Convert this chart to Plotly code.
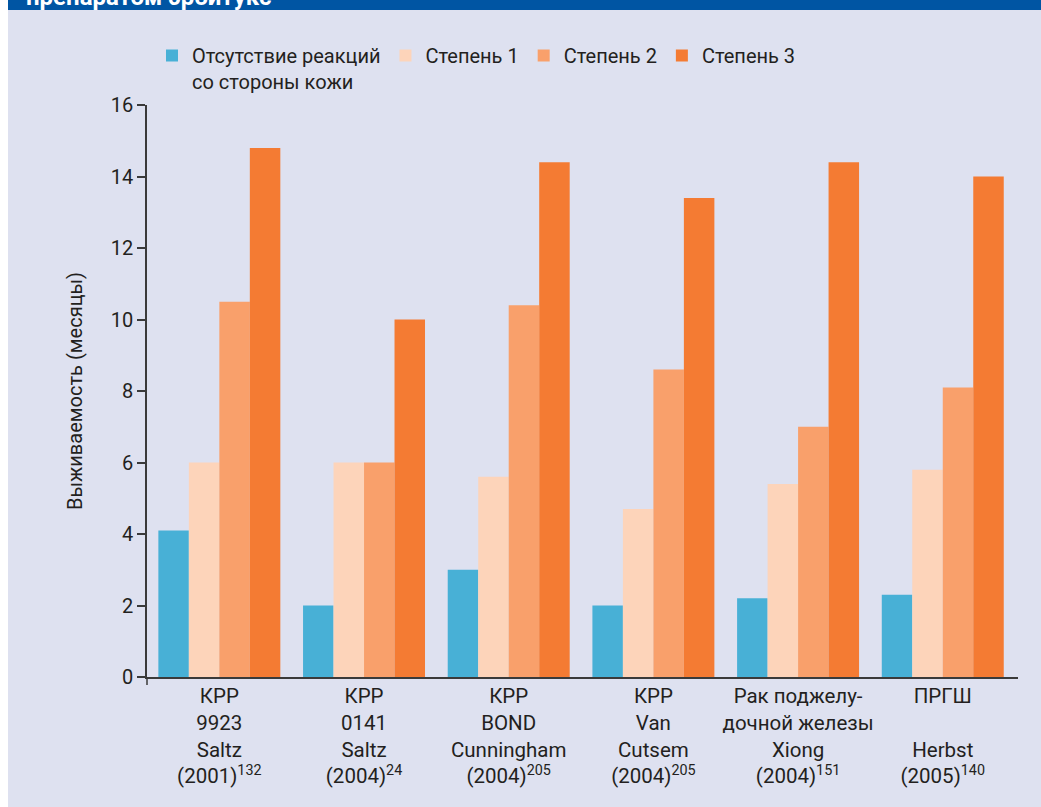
import plotly.graph_objects as go

categories = [
    "КРР<br>9923<br>Saltz<br>(2001)<sup>132</sup>",
    "КРР<br>0141<br>Saltz<br>(2004)<sup>24</sup>",
    "КРР<br>BOND<br>Cunningham<br>(2004)<sup>205</sup>",
    "КРР<br>Van<br>Cutsem<br>(2004)<sup>205</sup>",
    "Рак поджелу-<br>дочной железы<br>Xiong<br>(2004)<sup>151</sup>",
    "ПРГШ<br> <br>Herbst<br>(2005)<sup>140</sup>",
]
series_names = ["Отсутствие реакций<br>со стороны кожи", "Степень 1", "Степень 2", "Степень 3"]
no_reaction = [4.1, 2.0, 3.0, 2.0, 2.2, 2.3]
grade1 = [6.0, 6.0, 5.6, 4.7, 5.4, 5.8]
grade2 = [10.5, 6.0, 10.4, 8.6, 7.0, 8.1]
grade3 = [14.8, 10.0, 14.4, 13.4, 14.4, 14.0]
y_ticks = [0, 2, 4, 6, 8, 10, 12, 14, 16]

colors = ["#48B0D6", "#FDD4BA", "#F9A06B", "#F47B33"]
FONT = "Roboto"
TXT = "#231F20"
BG = "#DEE1F0"

x_idx = list(range(len(categories)))
fig = go.Figure()
for name, vals, col in zip(series_names, [no_reaction, grade1, grade2, grade3], colors):
    fig.add_trace(go.Bar(x=x_idx, y=vals, name=name, marker=dict(color=col, line=dict(width=0))))

L, R, T, B = 147, 23, 105, 130
W, H = 1041, 807
pw, ph = W - L - R, H - T - B
def px_x(p):
    return (p - L) / pw
def px_y(p):
    return (H - B - p) / ph

fig.update_layout(
    width=W, height=H,
    margin=dict(l=L, r=R, t=T, b=B, pad=0),
    paper_bgcolor=BG, plot_bgcolor=BG,
    font=dict(family=FONT, size=20, color=TXT),
    barmode="group", bargap=0.157, bargroupgap=0,
    showlegend=True,
    legend=dict(orientation="h", x=px_x(152), y=px_y(36), xanchor="left", yanchor="top",
                valign="top", bgcolor="rgba(0,0,0,0)", font=dict(size=20, family=FONT, color=TXT),
                traceorder="normal"),
    xaxis=dict(tickmode="array", tickvals=x_idx, ticktext=categories, range=[-0.5, 5.52],
               showline=True, linecolor="#3a3a3a", linewidth=1.5, ticks="", showgrid=False,
               zeroline=False, tickfont=dict(size=20.5, family=FONT, color=TXT)),
    yaxis=dict(range=[0, 16], tickmode="array", tickvals=y_ticks, showline=True,
               linecolor="#3a3a3a", linewidth=1.5, ticks="outside", ticklen=8, tickwidth=1.5,
               tickcolor="#3a3a3a", showgrid=False, zeroline=False,
               tickfont=dict(size=20, family=FONT, color=TXT),
               title=dict(text="Выживаемость (месяцы)", font=dict(size=20, family=FONT, color=TXT), standoff=23)),
    shapes=[
        dict(type="rect", xref="paper", yref="paper", x0=px_x(0), x1=px_x(8), y0=px_y(H), y1=px_y(0),
             fillcolor="white", line=dict(width=0), layer="above"),
        dict(type="rect", xref="paper", yref="paper", x0=px_x(8), x1=px_x(W), y0=px_y(10), y1=px_y(0),
             fillcolor="#0055A3", line=dict(width=0), layer="above"),
        dict(type="line", xref="paper", yref="paper", x0=0, x1=0, y0=0, y1=px_y(685),
             line=dict(color="#3a3a3a", width=1.5)),
    ],
    annotations=[
        dict(text="<b>препаратом эрбитукс</b>", xref="paper", yref="paper", x=px_x(24), y=px_y(13),
             xanchor="left", yanchor="bottom", showarrow=False,
             font=dict(size=24, family=FONT, color="white")),
    ],
)

fig.write_html("out.html")
